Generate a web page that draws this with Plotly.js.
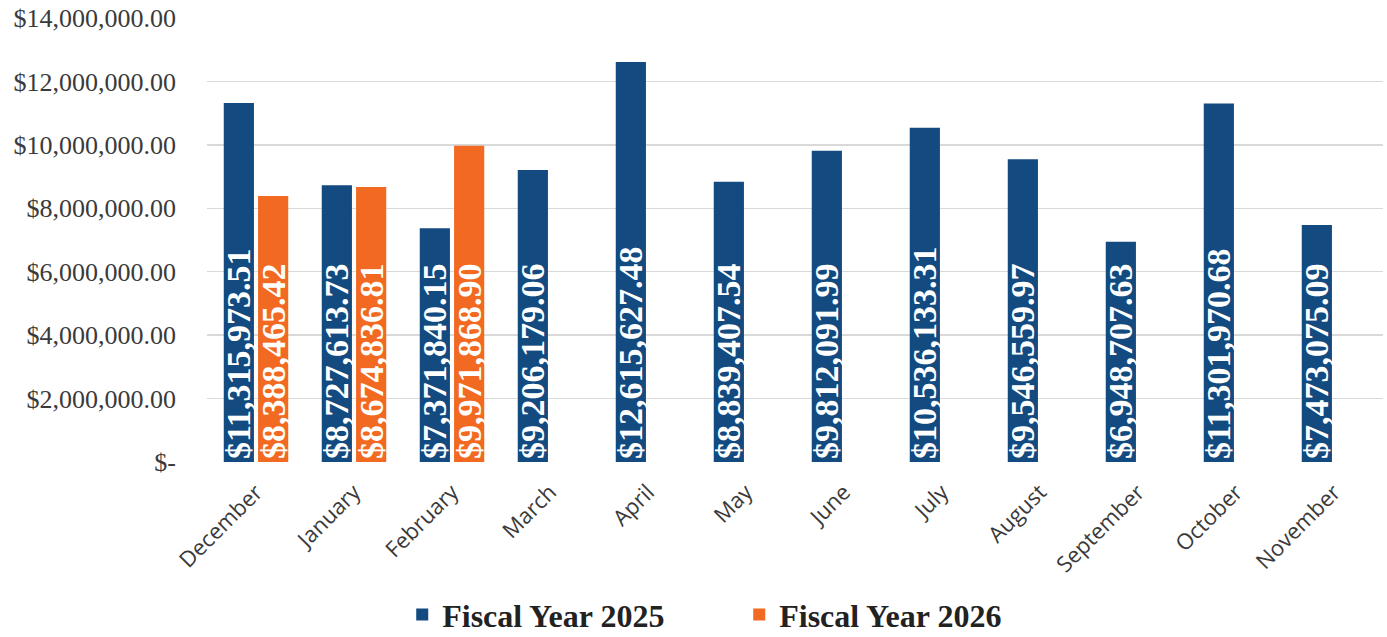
<!DOCTYPE html>
<html>
<head>
<meta charset="utf-8">
<script src="https://cdn.plot.ly/plotly-3.0.1.min.js"></script>
<style>html,body{margin:0;padding:0;background:#fff;}#chart{width:1387px;height:637px;}</style>
</head>
<body>
<div id="chart"></div>
<script>
const months = ["December","January","February","March","April","May","June","July","August","September","October","November"];
const fy2025 = [11315973.51, 8727613.73, 7371840.15, 9206179.06, 12615627.48, 8839407.54, 9812091.99, 10536133.31, 9546559.97, 6948707.63, 11301970.68, 7473075.09];
const fy2026 = [8388465.42, 8674836.81, 9971868.90];
const months2026 = months.slice(0, fy2026.length);
const yTickVals = [0, 2000000, 4000000, 6000000, 8000000, 10000000, 12000000, 14000000];
const yTickText = ["$-", "$2,000,000.00", "$4,000,000.00", "$6,000,000.00", "$8,000,000.00", "$10,000,000.00", "$12,000,000.00", "$14,000,000.00"];

const labelFont = {family: "Liberation Serif, Times New Roman, serif", size: 34, color: "#ffffff", weight: "bold"};

const traces = [
  {
    type: "bar", name: "Fiscal Year 2025", x: months, y: fy2025,
    marker: {color: "#134a80"},
    texttemplate: "$%{y:,.2f}", textposition: "inside", insidetextanchor: "start",
    textangle: -90, constraintext: "none", textfont: labelFont, hoverinfo: "skip"
  },
  {
    type: "bar", name: "Fiscal Year 2026", x: months2026, y: fy2026,
    marker: {color: "#f26a22"},
    texttemplate: "$%{y:,.2f}", textposition: "inside", insidetextanchor: "start",
    textangle: -90, constraintext: "none", textfont: labelFont, hoverinfo: "skip"
  }
];

const layout = {
  width: 1387, height: 637,
  margin: {l: 207, r: 4, t: 18, b: 175},
  paper_bgcolor: "#ffffff", plot_bgcolor: "#ffffff",
  barmode: "group", bargap: 0.3, bargroupgap: 0.12,
  showlegend: true,
  xaxis: {
    type: "category", categoryorder: "array", categoryarray: months,
    tickangle: -45, tickfont: {family: "Open Sans, sans-serif", size: 22, color: "#3a3a3a"},
    showgrid: false, zeroline: false, showline: false, ticks: "",
    ticklabelstandoff: 12
  },
  yaxis: {
    range: [0, 14000000], tickvals: yTickVals, ticktext: yTickText,
    tickfont: {family: "Liberation Serif, Times New Roman, serif", size: 26, color: "#3a3a3a"},
    showgrid: true, gridcolor: "#d9d9d9", gridwidth: 1.5, zeroline: false, showline: false,
    ticklabelstandoff: 30
  },
  legend: {
    orientation: "h", xref: "container", yref: "container",
    x: 0.29, xanchor: "left", y: 0.035, yanchor: "middle",
    font: {family: "Liberation Serif, Times New Roman, serif", size: 32, color: "#222222", weight: "bold"},
    itemsizing: "constant", entrywidthmode: "pixels", entrywidth: 292, tracegroupgap: 0
  }
};

Plotly.newPlot("chart", traces, layout, {displayModeBar: false, staticPlot: true});
</script>
</body>
</html>
